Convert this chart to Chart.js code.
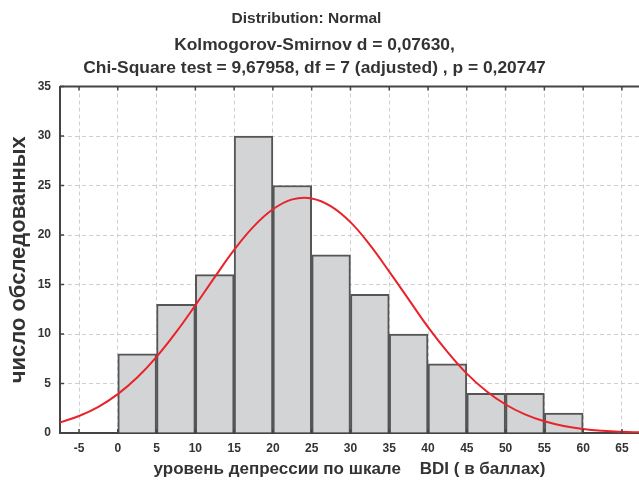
<!DOCTYPE html>
<html lang="ru">
  <head>
    <meta charset="UTF-8" />
    <title>Distribution: Normal</title>
    <style>
      body { margin: 0; background: #fff; }
      #wrap { width: 639px; height: 487px; }
    </style>
  </head>
  <body>
    <div id="wrap"><canvas id="myChart"></canvas></div>

    <script src="https://cdn.jsdelivr.net/npm/chart.js@4/dist/chart.umd.min.js"></script>
    <script>
      // histogram bins (BDI score), count per bin
      const binStart = [0, 5, 10, 15, 20, 25, 30, 35, 40, 45, 50, 55];
      const binCount = [8, 13, 16, 30, 25, 18, 14, 10, 7, 4, 4, 2];
      const binWidth = 5;

      // fitted normal curve
      const curveX = [-7.5, -5, -2.5, 0, 2.5, 5, 7.5, 10, 12.5, 15, 17.5, 20, 22.5, 25, 27.5, 30,
        32.5, 35, 37.5, 40, 42.5, 45, 47.5, 50, 52.5, 55, 57.5, 60, 62.5, 65, 67.5];
      const curveY = [1.05, 1.72, 2.65, 3.93, 5.61, 7.7, 10.16, 12.9, 15.75, 18.5, 20.85, 22.6, 23.6, 23.7, 22.9, 21.3,
        19.0, 16.3, 13.5, 10.7, 8.2, 6.0, 4.24, 2.88, 1.88, 1.18, 0.71, 0.41, 0.23, 0.125, 0.06];

      const titleText = "Distribution: Normal";
      const subtitleLines = [
        "Kolmogorov-Smirnov d = 0,07630,",
        "Chi-Square test = 9,67958, df = 7 (adjusted) , p = 0,20747"
      ];
      const xTitle = "уровень депрессии по шкале    BDI ( в баллах)";
      const yTitle = "число обследованных";

      const font = "'Liberation Sans', Arial, sans-serif";
      const ink = "#333";

      const barData = binStart.map((s, i) => ({ x: s + binWidth / 2, y: binCount[i] }));
      const lineData = curveX.map((x, i) => ({ x: x, y: curveY[i] }));

      // small inward tick marks + top frame line; titles sit a bit left of centre
      const frame = {
        id: "frame",
        afterLayout(chart) {
          chart.boxes.forEach(b => {
            if (!b.options) return;
            let dx = 0;
            if (b.options.text === titleText) dx = 14;
            else if (b.options.text === subtitleLines) dx = 6;
            b.left -= dx;
            b.right -= dx;
          });
        },
        afterDraw(chart) {
          const c = chart.ctx;
          const a = chart.chartArea;
          const xs = chart.scales.x;
          const ys = chart.scales.y;
          c.save();
          c.strokeStyle = "#444";
          c.lineWidth = 2;
          c.beginPath();
          c.moveTo(a.left, a.top);
          c.lineTo(a.right, a.top);
          c.stroke();
          c.lineWidth = 1.5;
          c.beginPath();
          xs.ticks.forEach(t => {
            const px = xs.getPixelForValue(t.value);
            c.moveTo(px, a.bottom);
            c.lineTo(px, a.bottom - 4);
            c.moveTo(px, a.top);
            c.lineTo(px, a.top + 4);
          });
          ys.ticks.forEach(t => {
            const py = ys.getPixelForValue(t.value);
            c.moveTo(a.left, py);
            c.lineTo(a.left + 4, py);
          });
          c.stroke();
          c.restore();
        }
      };

      const ctx = document.getElementById("myChart").getContext("2d");
      const chart = new Chart(ctx, {
        data: {
          datasets: [
            {
              type: "line",
              data: lineData,
              borderColor: "#e8232a",
              borderWidth: 2,
              pointRadius: 0,
              tension: 0.4,
              fill: false,
              order: 0
            },
            {
              type: "bar",
              data: barData,
              backgroundColor: "#d3d4d6",
              borderColor: "#555",
              borderWidth: 2,
              barPercentage: 1,
              categoryPercentage: 1,
              order: 1
            }
          ]
        },
        options: {
          responsive: true,
          maintainAspectRatio: false,
          animation: false,
          layout: { padding: { left: 2, right: 0, top: 4, bottom: 2 } },
          plugins: {
            legend: { display: false },
            tooltip: { enabled: false },
            title: {
              display: true,
              text: titleText,
              color: ink,
              font: { family: font, size: 15.5, weight: "bold", lineHeight: 1.2 },
              padding: { top: 5, bottom: 0 }
            },
            subtitle: {
              display: true,
              text: subtitleLines,
              color: ink,
              font: { family: font, size: 17.4, weight: "bold", lineHeight: 1.32 },
              padding: { top: 6, bottom: 7 }
            }
          },
          scales: {
            x: {
              type: "linear",
              offset: false,
              min: -7.45,
              max: 67.2,
              afterBuildTicks: s => {
                s.ticks = s.ticks.filter(t => t.value % 5 === 0);
              },
              afterFit: s => {
                s.height = 52;
              },
              ticks: {
                stepSize: 5,
                includeBounds: false,
                autoSkip: false,
                color: ink,
                font: { family: font, size: 12, weight: "bold" },
                padding: 8,
                maxRotation: 0
              },
              grid: {
                offset: false,
                color: "#cfcfcf",
                drawTicks: false
              },
              border: { color: "#444", width: 2, dash: [4, 3] },
              title: {
                display: true,
                text: xTitle,
                color: ink,
                font: { family: font, size: 17, weight: "bold" },
                padding: { top: 0, bottom: 5 }
              }
            },
            y: {
              min: 0,
              max: 35,
              afterFit: s => {
                s.width = 58;
              },
              ticks: {
                stepSize: 5,
                color: ink,
                font: { family: font, size: 12, weight: "bold" },
                padding: 9
              },
              grid: {
                color: "#cfcfcf",
                drawTicks: false
              },
              border: { color: "#444", width: 2, dash: [4, 3] },
              title: {
                display: true,
                text: yTitle,
                color: ink,
                font: { family: font, size: 22, weight: "bold" },
                padding: { top: 4, bottom: 0 }
              }
            }
          }
        },
        plugins: [frame]
      });
    </script>
  </body>
</html>
